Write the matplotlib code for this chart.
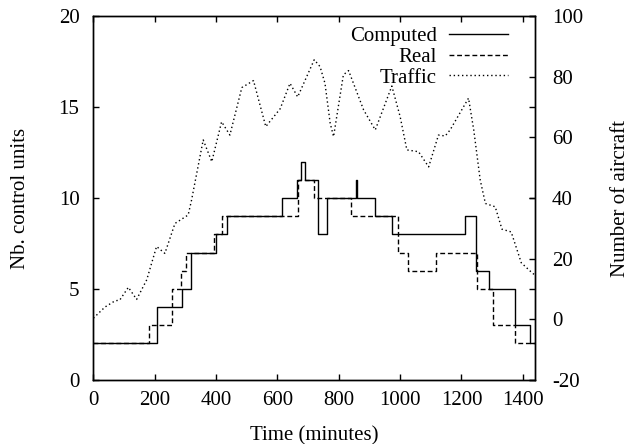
import matplotlib
matplotlib.use('Agg')
import matplotlib.pyplot as plt

plt.rcParams['font.family'] = ['Liberation Serif', 'DejaVu Serif']
plt.rcParams['font.size'] = 15
plt.rcParams['axes.unicode_minus'] = False

# Step series: time (minutes) where each level starts, and the level
computed_t = [0, 208, 290, 317, 399, 437, 616, 663, 677, 691, 732, 763, 857, 860,
              917, 973, 1210, 1246, 1289, 1374, 1425, 1440]
computed_v = [2, 4, 5, 7, 8, 9, 10, 11, 12, 11, 8, 10, 11, 10,
              9, 8, 9, 6, 5, 3, 2, 2]

real_t = [0, 182, 257, 286, 301, 393, 418, 668, 720, 839, 993, 1027, 1117, 1251,
          1302, 1376, 1440]
real_v = [2, 3, 5, 6, 7, 8, 9, 11, 10, 9, 7, 6, 7, 5,
          3, 2, 2]

# Traffic (number of aircraft, right axis)
traffic_t = [0, 38, 70, 86, 114, 141, 174, 206, 233, 266, 309, 320, 358, 386,
             418, 445, 484, 522, 562, 609, 641, 666, 720, 739, 755, 772, 783,
             815, 832, 881, 919, 973, 1000, 1022, 1060, 1093, 1125, 1147, 1163,
             1207, 1223, 1240, 1261, 1278, 1310, 1332, 1362, 1395, 1430, 1440]
traffic_v = [0.3, 4, 6, 6.3, 10.5, 6.5, 13, 24, 21.7, 31.6, 34.4, 39.3, 59.2, 52,
             65.2, 60.8, 76.5, 78.8, 63.6, 69.5, 77.9, 73.4, 85.7, 83.4, 77.9, 64.7, 60.3,
             80.7, 82.1, 69.1, 62.5, 77.0, 66.9, 55.9, 55.3, 50.3, 60.8, 60.5, 62.5,
             70.2, 73.0, 62.5, 46.0, 38.2, 37.1, 29.7, 28.8, 18.6, 15.3, 14.5]

fig = plt.figure(figsize=(6.31, 4.44), dpi=100)
ax = fig.add_axes([0.148, 0.145, 0.7, 0.818])
ax2 = ax.twinx()

l1, = ax.step(computed_t, computed_v, where='post', color='black', lw=1.0,
              label='Computed')
l2, = ax.step(real_t, real_v, where='post', color='black', lw=1.0,
              linestyle=(0, (3.5, 2)), label='Real')
l3, = ax2.plot(traffic_t, traffic_v, color='black', lw=1.0,
               linestyle=(0, (1, 2)), label='Traffic')

ax.set_xlim(0, 1440)
ax.set_ylim(0, 20)
ax2.set_ylim(-20, 100)
ax.set_xticks(range(0, 1401, 200))
ax.set_yticks(range(0, 21, 5))
ax2.set_yticks(range(-20, 101, 20))

ax.tick_params(direction='in', top=True, right=True, length=4, width=1, pad=8)
ax.tick_params(axis='y', pad=10)
ax2.tick_params(direction='in', length=4, width=1, pad=12)

for a in (ax, ax2):
    for s in a.spines.values():
        s.set_linewidth(1.0)

ax.set_xlabel('Time (minutes)')
ax.set_ylabel('Nb. control units')
ax2.set_ylabel('Number of aircraft')
ax.xaxis.set_label_coords(0.5, -0.128)
ax.yaxis.set_label_coords(-0.143, 0.5)
ax2.yaxis.set_label_coords(1.172, 0.5)

leg = ax.legend(handles=[l1, l2, l3], loc='upper right', frameon=False,
                bbox_to_anchor=(0.9615, 1.0),
                markerfirst=False, handlelength=2.8, labelspacing=0.05,
                handletextpad=0.6, borderaxespad=0.2, borderpad=0.3)

fig.savefig('out.png', dpi=100)
